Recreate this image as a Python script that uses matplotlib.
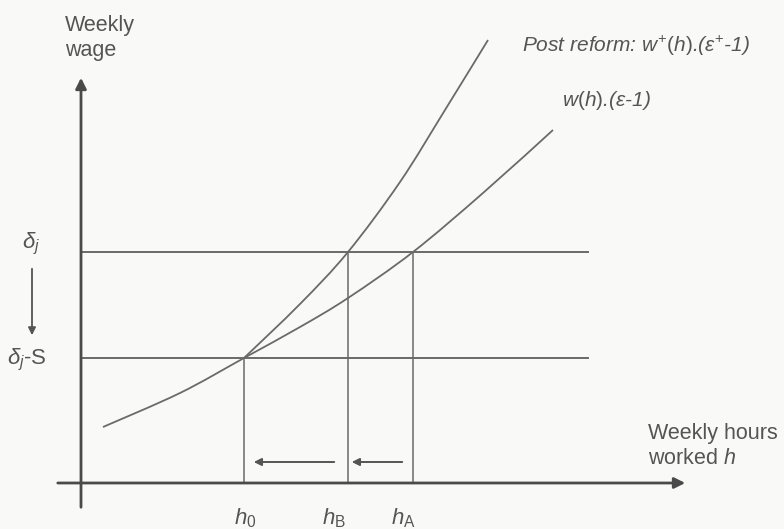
import matplotlib
matplotlib.use("Agg")
import matplotlib.pyplot as plt
from matplotlib.path import Path
from matplotlib.patches import PathPatch

plt.rcParams['font.family'] = ['Liberation Sans', 'DejaVu Sans']
plt.rcParams['mathtext.fontset'] = 'custom'
plt.rcParams['mathtext.it'] = 'Liberation Sans:italic'
plt.rcParams['mathtext.rm'] = 'Liberation Sans'
plt.rcParams['mathtext.sf'] = 'Liberation Sans'

# --- diagram data (figure units: x to the right, y downward as in the picture) ---
# pre-reform curve w(h).(eps-1)
w_x = [103, 180, 244, 300, 348, 413, 483, 553]
w_y = [427, 393, 358, 327, 298, 252, 193, 130]
# post-reform curve w+(h).(eps+-1)
post_x = [244, 300, 348, 400, 445, 488]
post_y = [358, 304, 252, 182, 110, 40]
# wage levels
level_names = [r'$\delta_j$', r'$\delta_j$-S']
level_y = [252, 358]
level_x_end = 588
# hours
hour_names = [r'$h_\mathrm{0}$', r'$h_\mathrm{B}$', r'$h_\mathrm{A}$']
hour_x = [244, 348, 413]
hour_top = [358, 252, 252]
hour_label_x = [245, 334, 403]
# axes
origin_x, origin_y = 81, 483

fig = plt.figure(figsize=(7.84, 5.29), dpi=100)
fig.patch.set_facecolor('#f9f9f7')
ax = fig.add_axes([0, 0, 1, 1])
ax.set_xlim(0, 784)
ax.set_ylim(529, 0)
ax.axis('off')

lc = '#6a6a6a'
tc = '#555555'


def smooth_path(xs, ys):
    """Smooth curve through the given points (Catmull-Rom as cubic Bezier)."""
    pts = list(zip(xs, ys))
    verts = [pts[0]]
    codes = [Path.MOVETO]
    n = len(pts)
    for i in range(n - 1):
        p0 = pts[i - 1] if i > 0 else pts[i]
        p1 = pts[i]
        p2 = pts[i + 1]
        p3 = pts[i + 2] if i + 2 < n else pts[i + 1]
        c1 = (p1[0] + (p2[0] - p0[0]) / 6, p1[1] + (p2[1] - p0[1]) / 6)
        c2 = (p2[0] - (p3[0] - p1[0]) / 6, p2[1] - (p3[1] - p1[1]) / 6)
        verts += [c1, c2, p2]
        codes += [Path.CURVE4] * 3
    return Path(verts, codes)


# axes with arrows
ax.annotate('', xy=(origin_x, 75), xytext=(origin_x, 510),
            arrowprops=dict(arrowstyle='-|>', color='#4a4a4a', lw=2.0, mutation_scale=16))
ax.annotate('', xy=(688, origin_y), xytext=(55, origin_y),
            arrowprops=dict(arrowstyle='-|>', color='#4a4a4a', lw=2.0, mutation_scale=16))

# horizontal wage levels
for y in level_y:
    ax.plot([origin_x, level_x_end], [y, y], color=lc, lw=1.4)

# vertical hour lines
for x, top in zip(hour_x, hour_top):
    ax.plot([x, x], [origin_y, top], color=lc, lw=1.1)

# curves
ax.add_patch(PathPatch(smooth_path(w_x, w_y), fill=False, edgecolor=lc, lw=1.3))
ax.add_patch(PathPatch(smooth_path(post_x, post_y), fill=False, edgecolor=lc, lw=1.3))

# shift arrows
ax.annotate('', xy=(251, 462), xytext=(337, 462),
            arrowprops=dict(arrowstyle='-|>', color='#555555', lw=1.4, mutation_scale=11))
ax.annotate('', xy=(349, 462), xytext=(405, 462),
            arrowprops=dict(arrowstyle='-|>', color='#555555', lw=1.4, mutation_scale=11))

# left-side level arrow
ax.annotate('', xy=(32, 338), xytext=(32, 266),
            arrowprops=dict(arrowstyle='-|>', color='#555555', lw=1.3, mutation_scale=11))

# texts
fs = 15.5
ax.text(65, 38, 'Weekly\nwage', fontsize=fs, color=tc, ha='left', va='center', linespacing=1.25)
ax.text(648, 446, 'Weekly hours\nworked $h$', fontsize=fs, color=tc, ha='left', va='center',
        linespacing=1.25)
ax.text(522, 46, r'Post reform: $w^{+}(h)$.($\epsilon^{+}$-1)', fontsize=15, color=tc,
        ha='left', va='center', style='italic')
ax.text(562, 100, r'$w(h)$.($\epsilon$-1)', fontsize=15, color=tc, ha='left', va='center',
        style='italic')

ax.text(31, 244, level_names[0], fontsize=16, color=tc, ha='center', va='center')
ax.text(27, 360, level_names[1], fontsize=16, color=tc, ha='center', va='center')

for name, x in zip(hour_names, hour_label_x):
    ax.text(x, 518, name, fontsize=16, color=tc, ha='center', va='center')

fig.savefig('out.png', dpi=100, facecolor=fig.get_facecolor())
